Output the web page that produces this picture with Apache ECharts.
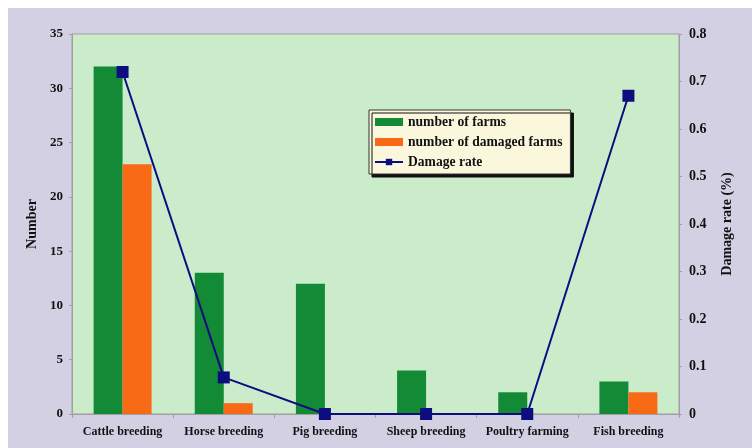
<!DOCTYPE html>
<html>
<head>
<meta charset="utf-8">
<script src="https://cdn.jsdelivr.net/npm/echarts@6/dist/echarts.min.js"></script>
<style>
  html, body { margin: 0; padding: 0; background: #ffffff; }
  #chart { position: absolute; left: 8px; top: 8px; width: 744px; height: 440px; }
</style>
</head>
<body>
<div id="chart"></div>
<script>
// data
var categories = ['Cattle breeding', 'Horse breeding', 'Pig breeding', 'Sheep breeding', 'Poultry farming', 'Fish breeding'];
var farms = [32, 13, 12, 4, 2, 3];
var damagedFarms = [23, 1, 0, 0, 0, 2];
var damageRate = [0.72, 0.077, 0, 0, 0, 0.67];
var leftTicks = [0, 35, 5];      // min, max, step
var rightTicks = [0, 0.8, 0.1];

var font = 'Liberation Serif';
var myChart = echarts.init(document.getElementById('chart'));

var option = {
    backgroundColor: '#d3d0e4',
    textStyle: { fontFamily: font, fontWeight: 'bold', color: '#111' },
    grid: {
        left: 64, top: 26, right: 73, bottom: 34,
        show: true,
        backgroundColor: '#cbeccb',
        borderColor: '#a0a0a0',
        borderWidth: 1
    },
    legend: {
        orient: 'vertical',
        left: 361, top: 102,
        padding: [5, 8, 5, 5],
        itemGap: 6,
        itemWidth: 28,
        itemHeight: 8,
        backgroundColor: '#fbf7dc',
        borderColor: '#333',
        borderWidth: 1,
        shadowColor: '#111',
        shadowOffsetX: 3,
        shadowOffsetY: 3,
        shadowBlur: 0,
        textStyle: { fontFamily: font, fontWeight: 'bold', fontSize: 13.6, color: '#111' },
        data: [
            { name: 'number of farms', icon: 'rect' },
            { name: 'number of damaged farms', icon: 'rect' },
            { name: 'Damage rate' }
        ]
    },
    xAxis: {
        type: 'category',
        data: categories,
        axisLine: { lineStyle: { color: '#a0a0a0' } },
        axisTick: { show: true, length: 4, lineStyle: { color: '#a0a0a0' } },
        axisLabel: { fontFamily: font, fontWeight: 'bold', fontSize: 12, color: '#111', margin: 12, interval: 0 }
    },
    yAxis: [
        {
            type: 'value',
            name: 'Number',
            nameLocation: 'middle',
            nameGap: 29,
            nameTextStyle: { fontFamily: font, fontWeight: 'bold', fontSize: 14, color: '#111' },
            min: leftTicks[0], max: leftTicks[1], interval: leftTicks[2],
            splitLine: { show: false },
            axisLine: { show: true, lineStyle: { color: '#a0a0a0' } },
            axisTick: { show: true, length: 3, lineStyle: { color: '#a0a0a0' } },
            axisLabel: { fontFamily: font, fontWeight: 'bold', fontSize: 13, color: '#111', margin: 9 }
        },
        {
            type: 'value',
            name: 'Damage rate (%)',
            nameLocation: 'middle',
            nameGap: 41,
            nameRotate: 90,
            nameTextStyle: { fontFamily: font, fontWeight: 'bold', fontSize: 14, color: '#111' },
            min: rightTicks[0], max: rightTicks[1], interval: rightTicks[2],
            splitLine: { show: false },
            axisLine: { show: true, lineStyle: { color: '#a0a0a0' } },
            axisTick: { show: true, length: 3, lineStyle: { color: '#a0a0a0' } },
            axisLabel: {
                fontFamily: font, fontWeight: 'bold', fontSize: 14, color: '#111', margin: 10,
                formatter: function (v) { return v === 0 ? '0' : v.toFixed(1); }
            }
        }
    ],
    series: [
        {
            name: 'number of farms',
            type: 'bar',
            data: farms,
            barWidth: 29,
            barGap: '0%',
            itemStyle: { color: '#138a35' }
        },
        {
            name: 'number of damaged farms',
            type: 'bar',
            data: damagedFarms,
            barWidth: 29,
            barGap: '0%',
            itemStyle: { color: '#f96a16' }
        },
        {
            name: 'Damage rate',
            type: 'line',
            yAxisIndex: 1,
            data: damageRate,
            symbol: 'rect',
            symbolSize: 12,
            lineStyle: { color: '#0d0d80', width: 2 },
            itemStyle: { color: '#0d0d80' },
            z: 5
        }
    ]
};
myChart.setOption(option);
</script>
</body>
</html>
